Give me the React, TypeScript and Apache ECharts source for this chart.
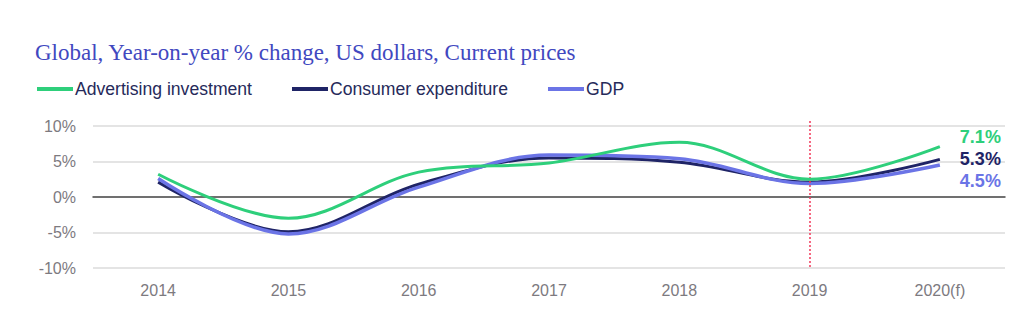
import React, { useEffect, useRef } from "react";
import * as echarts from "echarts";

const years = ["2014", "2015", "2016", "2017", "2018", "2019", "2020(f)"];
const advertising = [3.2, -3.0, 3.5, 4.8, 7.7, 2.5, 7.1];
const consumer = [2.1, -4.9, 1.8, 5.5, 4.9, 2.1, 5.3];
const gdp = [2.6, -5.2, 1.4, 5.9, 5.4, 1.9, 4.5];
const yTicks = { min: -10, max: 10, interval: 5 };
const markYear = "2019";

const GREEN = "#2ecf7b";
const NAVY = "#1f2466";
const BLUE = "#6b74e6";
const SANS = "Liberation Sans, Arial, sans-serif";

export default function App() {
  const ref = useRef<HTMLDivElement>(null);
  useEffect(() => {
    document.body.style.margin = "0";
    const chart = echarts.init(ref.current!, null, { renderer: "svg" });
    const endLabel = (color: string, dy: number) => ({
      show: true,
      formatter: (p: any) => `${p.value}%`,
      color,
      fontFamily: SANS,
      fontWeight: "bold",
      fontSize: 18,
      offset: [12, dy],
    });
    chart.setOption({
      animation: false,
      backgroundColor: "#ffffff",
      title: {
        text: "Global, Year-on-year % change, US dollars, Current prices",
        left: 30,
        top: 36,
        textStyle: {
          fontFamily: "Liberation Serif, Times New Roman, serif",
          fontWeight: "normal",
          fontSize: 23,
          color: "#4148c0",
        },
      },
      legend: {
        left: 37,
        top: 80,
        padding: 0,
        icon: "rect",
        itemWidth: 36,
        itemHeight: 4,
        itemGap: 40,
        textStyle: {
          fontFamily: SANS,
          fontSize: 17.6,
          color: "#262a5a",
          padding: [0, 0, 0, -3],
        },
        data: ["Advertising investment", "Consumer expenditure", "GDP"],
      },
      grid: { left: 93, right: 19, top: 126, bottom: 66 },
      xAxis: {
        type: "category",
        data: years,
        boundaryGap: true,
        axisTick: { show: false },
        axisLine: { onZero: true, lineStyle: { color: "#4a4a4a", width: 1.5 } },
        axisLabel: {
          color: "#7d7a7f",
          fontFamily: SANS,
          fontSize: 16,
          margin: 14,
        },
      },
      yAxis: {
        type: "value",
        min: yTicks.min,
        max: yTicks.max,
        interval: yTicks.interval,
        axisLine: { show: false },
        axisTick: { show: false },
        axisLabel: {
          formatter: "{value}%",
          color: "#7d7a7f",
          fontFamily: SANS,
          fontSize: 16,
          margin: 17,
        },
        splitLine: { lineStyle: { color: "#e4e4e4", width: 2 } },
      },
      series: [
        {
          name: "Consumer expenditure",
          type: "line",
          data: consumer,
          smooth: 0.35,
          showSymbol: false,
          lineStyle: { color: NAVY, width: 3 },
          itemStyle: { color: NAVY },
          endLabel: endLabel(NAVY, 0),
          z: 3,
        },
        {
          name: "GDP",
          type: "line",
          data: gdp,
          smooth: 0.35,
          showSymbol: false,
          lineStyle: { color: BLUE, width: 3.5 },
          itemStyle: { color: BLUE },
          endLabel: endLabel(BLUE, 16),
          z: 4,
        },
        {
          name: "Advertising investment",
          type: "line",
          data: advertising,
          smooth: 0.35,
          showSymbol: false,
          lineStyle: { color: GREEN, width: 3 },
          itemStyle: { color: GREEN },
          endLabel: endLabel(GREEN, -10),
          z: 5,
          markLine: {
            silent: true,
            symbol: "none",
            label: { show: false },
            lineStyle: { color: "#f2375a", type: [2, 2], width: 1.5 },
            data: [[{ xAxis: markYear, y: 121 }, { xAxis: markYear, y: 268 }]],
          },
        },
      ],
    });
    return () => chart.dispose();
  }, []);
  return <div ref={ref} style={{ width: 1024, height: 334 }} />;
}
